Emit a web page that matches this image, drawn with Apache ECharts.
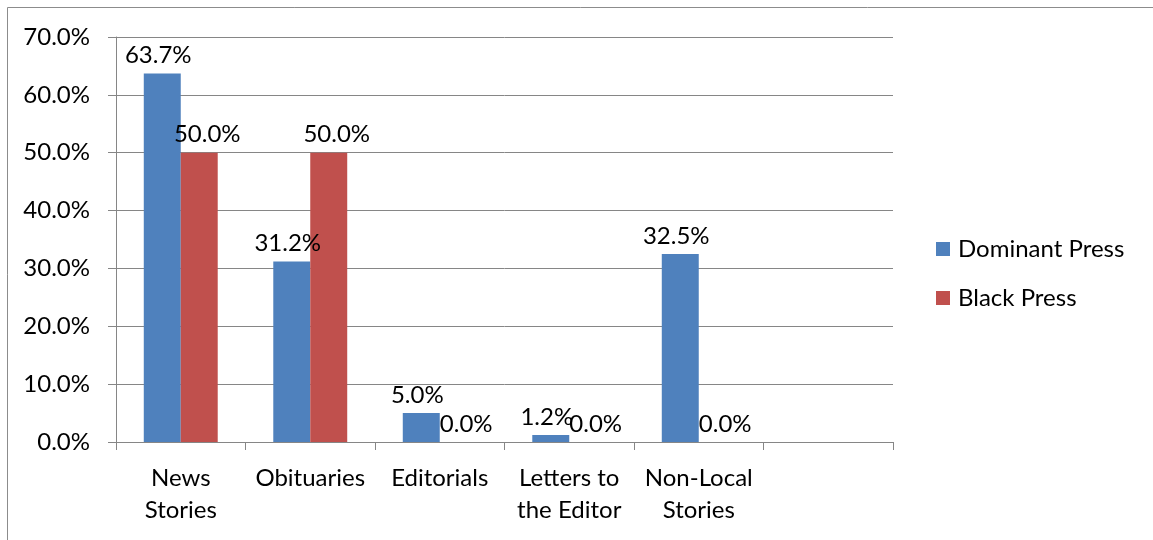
<!DOCTYPE html>
<html>
<head>
<meta charset="utf-8">
<script src="https://cdn.jsdelivr.net/npm/echarts@6/dist/echarts.min.js"></script>
<style>
html,body{margin:0;padding:0;background:#fff;}
#chart{width:1153px;height:540px;}
</style>
</head>
<body>
<div id="chart"></div>
<script>
const categories = ['News\nStories', 'Obituaries', 'Editorials', 'Letters to\nthe Editor', 'Non-Local\nStories', ''];
const dominantPress = [63.7, 31.2, 5.0, 1.2, 32.5, null];
const blackPress = [50.0, 50.0, 0.0, 0.0, 0.0, null];
const yTicks = { min: 0, max: 70, interval: 10 };

const FONT = 'Lato, "Noto Sans", sans-serif';
const FS = 24;
const GRAY = '#868686';
const chart = echarts.init(document.getElementById('chart'), null, { renderer: 'canvas' });

function labelCfg(dx) {
  return {
    show: true,
    position: 'top',
    distance: 6,
    offset: [dx, 0],
    color: '#000',
    fontFamily: FONT,
    fontSize: FS,
    formatter: p => (p.value == null ? '' : p.value.toFixed(1) + '%')
  };
}

chart.setOption({
  animation: false,
  backgroundColor: '#fff',
  textStyle: { fontFamily: FONT },
  graphic: [{
    type: 'rect',
    shape: { x: 7.5, y: 7.5, width: 1150, height: 560 },
    style: { fill: 'none', stroke: '#8c8c8c', lineWidth: 1 },
    silent: true
  }],
  grid: { left: 116, right: 260, top: 37, bottom: 98 },
  legend: {
    orient: 'vertical',
    left: 936,
    top: 236,
    padding: 0,
    itemWidth: 14,
    itemHeight: 14,
    itemGap: 23,
    icon: 'rect',
    textStyle: { fontFamily: FONT, fontSize: FS, color: '#000', padding: [0, 0, 0, 3], lineHeight: 26 },
    data: ['Dominant Press', 'Black Press']
  },
  xAxis: {
    type: 'category',
    data: categories,
    axisLine: { lineStyle: { color: GRAY, width: 1 } },
    axisTick: { show: true, interval: 0, length: 8, lineStyle: { color: GRAY } },
    axisLabel: { interval: 0, color: '#000', fontFamily: FONT, fontSize: FS, lineHeight: 32, margin: 20 }
  },
  yAxis: {
    type: 'value',
    min: yTicks.min,
    max: yTicks.max,
    interval: yTicks.interval,
    axisLine: { show: true, lineStyle: { color: GRAY, width: 1 } },
    axisTick: { show: true, length: 8, lineStyle: { color: GRAY } },
    splitLine: { show: true, lineStyle: { color: GRAY, width: 1 } },
    axisLabel: { color: '#000', fontFamily: FONT, fontSize: FS, margin: 26, formatter: v => v.toFixed(1) + '%' }
  },
  series: [
    {
      name: 'Dominant Press',
      type: 'bar',
      data: dominantPress,
      itemStyle: { color: '#4F81BD' },
      barGap: '0%',
      barCategoryGap: '42.9%',
      label: labelCfg(-4)
    },
    {
      name: 'Black Press',
      type: 'bar',
      data: blackPress,
      itemStyle: { color: '#C0504D' },
      barGap: '0%',
      barCategoryGap: '42.9%',
      label: labelCfg(8)
    }
  ]
});
</script>
</body>
</html>
